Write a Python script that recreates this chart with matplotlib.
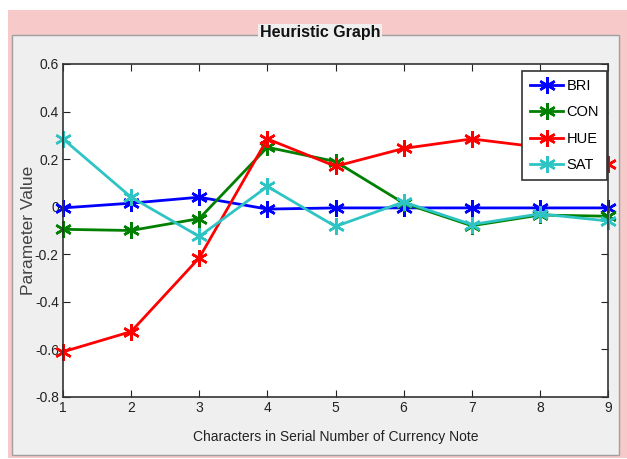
import matplotlib
matplotlib.use("Agg")
import matplotlib.pyplot as plt
from matplotlib.patches import Rectangle
from matplotlib import font_manager

names = {f.name for f in font_manager.fontManager.ttflist}
FONT = 'Liberation Sans Narrow' if 'Liberation Sans Narrow' in names else 'Liberation Sans'
plt.rcParams['font.family'] = [FONT, 'DejaVu Sans']

x = [1, 2, 3, 4, 5, 6, 7, 8, 9]
bri = [-0.005, 0.015, 0.04, -0.01, -0.005, -0.005, -0.005, -0.005, -0.005]
con = [-0.095, -0.10, -0.05, 0.25, 0.19, 0.015, -0.08, -0.035, -0.04]
hue = [-0.61, -0.525, -0.215, 0.285, 0.17, 0.245, 0.285, 0.25, 0.18]
sat = [0.285, 0.04, -0.125, 0.085, -0.083, 0.02, -0.075, -0.03, -0.06]
series = [("BRI", bri, "#0000ff"), ("CON", con, "#008000"),
          ("HUE", hue, "#ff0000"), ("SAT", sat, "#2ec4c4")]
yticks = [-0.8, -0.6, -0.4, -0.2, 0, 0.2, 0.4, 0.6]
ytick_labels = ["-0.8", "-0.6", "-0.4", "-0.2", "0", "0.2", "0.4", "0.6"]

W, H = 627, 459
fig = plt.figure(figsize=(W / 100, H / 100), dpi=100)
fig.patch.set_facecolor("white")

def fx(px):
    return px / W

def fy(py):
    return 1 - py / H

# pink outer band
fig.patches.append(Rectangle((fx(8), fy(458)), fx(627) - fx(8), fy(10) - fy(458),
                             transform=fig.transFigure, facecolor="#f7c9c9",
                             edgecolor="none", zorder=-3))
# gray panel
fig.patches.append(Rectangle((fx(12), fy(455)), fx(619) - fx(12), fy(35) - fy(455),
                             transform=fig.transFigure, facecolor="#efefef",
                             edgecolor="#a0a0a0", linewidth=1.0, zorder=-2))

ax = fig.add_axes([fx(63), fy(397), fx(608) - fx(63), fy(64) - fy(397)])
ax.set_zorder(1)
ax.set_facecolor("white")
for name, vals, col in series:
    ax.plot(x, vals, color=col, linewidth=2, marker=(6, 2, 0), markersize=12,
            markeredgewidth=1.8, label=name, clip_on=False)

ax.set_xlim(1, 9)
ax.set_ylim(-0.8, 0.6)
ax.set_xticks(x)
ax.set_yticks(yticks)
ax.set_yticklabels(ytick_labels)
ax.tick_params(direction="in", length=5, top=True, right=True,
               labelsize=10, colors="#222222", pad=3)
for s in ax.spines.values():
    s.set_color("#333333")
    s.set_linewidth(1.2)

ax.set_ylabel("Parameter Value", fontsize=12.5, color="#444444", labelpad=-1)
ax.set_xlabel("Characters in Serial Number of Currency Note", fontsize=10,
              color="#222222", labelpad=11)

leg = ax.legend(loc="upper right", bbox_to_anchor=(0.998, 0.979), fontsize=10.5,
                frameon=True, fancybox=False, edgecolor="#333333", framealpha=1,
                handlelength=2.3, borderpad=0.55, labelspacing=0.85,
                handletextpad=0.2, borderaxespad=0)
leg.get_frame().set_linewidth(1.2)
leg.set_zorder(10)

fig.text(fx(320), fy(33), "Heuristic Graph", ha="center", va="center",
         fontsize=11.5, fontweight="bold", color="#111111", zorder=5,
         bbox=dict(facecolor="#efefef", edgecolor="none", pad=1))

fig.savefig("out.png", dpi=100, facecolor=fig.get_facecolor())
